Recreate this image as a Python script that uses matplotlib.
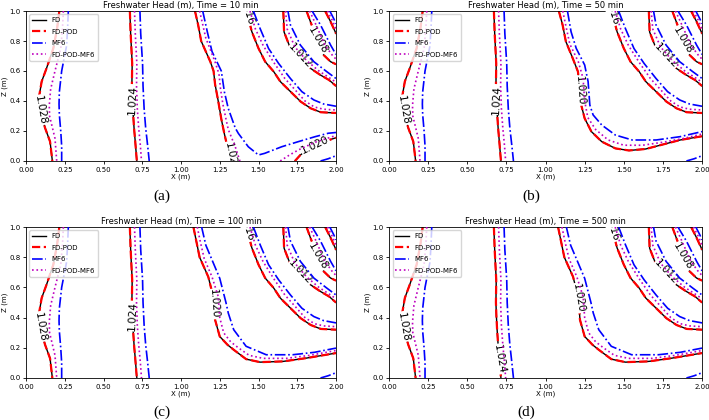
import numpy as np
import matplotlib
matplotlib.use('Agg')
from matplotlib import pyplot as plt

# Contour lines, x and z in metres.
# FD and FD-POD lie on top of each other, so they share one set of points.
# "mix" is the FD-POD-MF6 run.

# 1.028
x_fd_1028 = [0.215, 0.20, 0.176, 0.133, 0.101, 0.086, 0.09, 0.123, 0.155, 0.17]
z_fd_1028 = [1.0, 0.88, 0.75, 0.62, 0.53, 0.44, 0.34, 0.22, 0.13, 0.0]
x_mix_1028 = [0.241, 0.235, 0.224, 0.187, 0.159, 0.15, 0.152, 0.166, 0.187, 0.198]
z_mix_1028 = [1.0, 0.88, 0.75, 0.6, 0.48, 0.37, 0.3, 0.24, 0.15, 0.0]
x_mf6_1028 = [0.273, 0.268, 0.262, 0.23, 0.215, 0.213, 0.215, 0.224, 0.23, 0.23]
z_mf6_1028 = [1.0, 0.88, 0.77, 0.6, 0.46, 0.38, 0.31, 0.2, 0.1, 0.0]

# 1.024
x_fd_1024 = [0.670, 0.675, 0.685, 0.683, 0.686, 0.690, 0.697, 0.705, 0.715]
z_fd_1024 = [1.0, 0.85, 0.65, 0.50, 0.41, 0.33, 0.22, 0.126, 0.0]
x_mix_1024 = [0.700, 0.705, 0.715, 0.713, 0.718, 0.727, 0.738, 0.745]
z_mix_1024 = [1.0, 0.85, 0.65, 0.50, 0.35, 0.22, 0.10, 0.0]
x_mf6_1024 = [0.735, 0.740, 0.752, 0.755, 0.762, 0.772, 0.785, 0.795]
z_mf6_1024 = [1.0, 0.85, 0.65, 0.50, 0.35, 0.22, 0.10, 0.0]

# 1.020 at 10 min (two pieces for FD and the mix)
x_fd_1020_t10_up = [1.09, 1.11, 1.13, 1.19, 1.21, 1.22, 1.24, 1.26, 1.28, 1.305, 1.32, 1.33]
z_fd_1020_t10_up = [1.0, 0.91, 0.80, 0.66, 0.60, 0.51, 0.40, 0.28, 0.18, 0.07, 0.03, 0.0]
x_fd_1020_t10_lo = [1.735, 1.77, 1.865, 1.97, 2.0]
z_fd_1020_t10_lo = [0.0, 0.04, 0.105, 0.145, 0.155]
x_mix_1020_t10_up = [1.12, 1.14, 1.16, 1.22, 1.245, 1.255, 1.27, 1.29, 1.305, 1.35, 1.38]
z_mix_1020_t10_up = [1.0, 0.91, 0.82, 0.66, 0.58, 0.48, 0.38, 0.28, 0.21, 0.095, 0.0]
x_mix_1020_t10_lo = [1.64, 1.70, 1.76, 1.865, 2.0]
z_mix_1020_t10_lo = [0.0, 0.04, 0.075, 0.125, 0.17]
x_mf6_1020_t10 = [1.14, 1.17, 1.20, 1.26, 1.28, 1.305, 1.35, 1.37, 1.434, 1.50, 1.54,
                  1.65, 1.757, 1.865, 1.95, 2.0]
z_mf6_1020_t10 = [1.0, 0.86, 0.73, 0.60, 0.46, 0.35, 0.22, 0.184, 0.095, 0.04, 0.051,
                  0.095, 0.129, 0.162, 0.185, 0.19]

# 1.020 at 50 min
x_fd_1020_t50 = [1.085, 1.109, 1.13, 1.174, 1.207, 1.217, 1.22, 1.228, 1.25, 1.293, 1.359,
                 1.446, 1.533, 1.64, 1.75, 1.86, 2.0]
z_fd_1020_t50 = [1.0, 0.907, 0.796, 0.684, 0.596, 0.507, 0.47, 0.373, 0.284, 0.196, 0.129,
                 0.084, 0.07, 0.08, 0.11, 0.14, 0.165]
x_mix_1020_t50 = [1.11, 1.13, 1.155, 1.21, 1.24, 1.25, 1.27, 1.32, 1.40, 1.50, 1.62, 1.75, 1.88, 2.0]
z_mix_1020_t50 = [1.0, 0.9, 0.78, 0.66, 0.55, 0.40, 0.29, 0.21, 0.14, 0.105, 0.105, 0.125, 0.15, 0.18]
x_mf6_1020_t50 = [1.14, 1.163, 1.196, 1.25, 1.272, 1.283, 1.304, 1.359, 1.446, 1.554, 1.707, 1.859, 2.0]
z_mf6_1020_t50 = [1.0, 0.862, 0.751, 0.64, 0.529, 0.373, 0.307, 0.24, 0.173, 0.14, 0.14, 0.162, 0.196]

# 1.020 at 100 and 500 min
x_fd_1020_late = [1.08, 1.10, 1.12, 1.176, 1.21, 1.213, 1.22, 1.25, 1.30, 1.34, 1.42, 1.51,
                  1.66, 1.81, 2.0]
z_fd_1020_late = [1.0, 0.9, 0.80, 0.67, 0.53, 0.49, 0.385, 0.275, 0.22, 0.187, 0.125, 0.105,
                  0.11, 0.132, 0.165]
x_mix_1020_late = [1.105, 1.125, 1.15, 1.20, 1.24, 1.25, 1.275, 1.32, 1.37, 1.44, 1.53, 1.68, 1.83, 2.0]
z_mix_1020_late = [1.0, 0.9, 0.79, 0.67, 0.54, 0.40, 0.30, 0.24, 0.20, 0.15, 0.13, 0.13, 0.15, 0.182]
x_mf6_1020_late = [1.133, 1.16, 1.21, 1.25, 1.27, 1.29, 1.305, 1.34, 1.42, 1.55, 1.72, 1.86, 2.0]
z_mf6_1020_late = [1.0, 0.88, 0.758, 0.66, 0.58, 0.50, 0.43, 0.32, 0.21, 0.154, 0.154, 0.17, 0.198]

# 1.016
x_fd_1016 = [1.42, 1.44, 1.457, 1.50, 1.543, 1.598, 1.641, 1.707, 1.772, 1.837, 1.902, 2.0]
z_fd_1016 = [1.0, 0.93, 0.862, 0.751, 0.662, 0.596, 0.529, 0.462, 0.396, 0.351, 0.325, 0.32]
x_mix_1016 = [1.445, 1.48, 1.53, 1.60, 1.67, 1.74, 1.80, 1.86, 1.92, 2.0]
z_mix_1016 = [1.0, 0.88, 0.77, 0.655, 0.55, 0.47, 0.40, 0.36, 0.345, 0.34]
x_mf6_1016 = [1.467, 1.51, 1.565, 1.63, 1.706, 1.78, 1.857, 1.92, 2.0]
z_mf6_1016 = [1.0, 0.884, 0.75, 0.65, 0.55, 0.462, 0.407, 0.38, 0.365]

# 1.012
x_fd_1012 = [1.66, 1.665, 1.706, 1.77, 1.835, 1.90, 1.955, 2.0]
z_fd_1012 = [1.0, 0.86, 0.751, 0.70, 0.618, 0.573, 0.54, 0.50]
x_mix_1012 = [1.675, 1.685, 1.735, 1.81, 1.89, 1.95, 2.0]
z_mix_1012 = [1.0, 0.88, 0.76, 0.67, 0.60, 0.56, 0.525]
x_mf6_1012 = [1.69, 1.706, 1.77, 1.857, 1.94, 2.0]
z_mf6_1012 = [1.0, 0.907, 0.773, 0.662, 0.596, 0.55]

# 1.008
x_fd_1008 = [1.81, 1.835, 1.88, 1.92, 1.965, 2.0]
z_fd_1008 = [1.0, 0.929, 0.807, 0.707, 0.662, 0.645]
x_mix_1008 = [1.83, 1.87, 1.93, 1.98, 2.0]
z_mix_1008 = [1.0, 0.91, 0.77, 0.70, 0.68]
x_mf6_1008 = [1.846, 1.90, 1.965, 2.0]
z_mf6_1008 = [1.0, 0.907, 0.773, 0.71]

# 1.004 (top right corner)
x_fd_1004 = [1.93, 1.965, 2.0]
z_fd_1004 = [1.0, 0.929, 0.85]
x_mix_1004 = [1.945, 1.975, 2.0]
z_mix_1004 = [1.0, 0.94, 0.88]
x_mf6_1004 = [1.96, 1.985, 2.0]
z_mf6_1004 = [1.0, 0.95, 0.915]

# MF6 only, bottom right corner
x_mf6_corner = [1.90, 1.95, 2.0]
z_mf6_corner = [0.0, 0.015, 0.035]

times = [10, 50, 100, 500]
captions = ['(a)', '(b)', '(c)', '(d)']


def curves(t):
    fd = [(x_fd_1028, z_fd_1028), (x_fd_1024, z_fd_1024)]
    mix = [(x_mix_1028, z_mix_1028), (x_mix_1024, z_mix_1024)]
    mf6 = [(x_mf6_1028, z_mf6_1028), (x_mf6_1024, z_mf6_1024)]
    if t == 10:
        fd += [(x_fd_1020_t10_up, z_fd_1020_t10_up), (x_fd_1020_t10_lo, z_fd_1020_t10_lo)]
        mix += [(x_mix_1020_t10_up, z_mix_1020_t10_up), (x_mix_1020_t10_lo, z_mix_1020_t10_lo)]
        mf6 += [(x_mf6_1020_t10, z_mf6_1020_t10)]
    elif t == 50:
        fd += [(x_fd_1020_t50, z_fd_1020_t50)]
        mix += [(x_mix_1020_t50, z_mix_1020_t50)]
        mf6 += [(x_mf6_1020_t50, z_mf6_1020_t50)]
    else:
        fd += [(x_fd_1020_late, z_fd_1020_late)]
        mix += [(x_mix_1020_late, z_mix_1020_late)]
        mf6 += [(x_mf6_1020_late, z_mf6_1020_late)]
    fd += [(x_fd_1016, z_fd_1016), (x_fd_1012, z_fd_1012), (x_fd_1008, z_fd_1008), (x_fd_1004, z_fd_1004)]
    mix += [(x_mix_1016, z_mix_1016), (x_mix_1012, z_mix_1012), (x_mix_1008, z_mix_1008),
            (x_mix_1004, z_mix_1004)]
    mf6 += [(x_mf6_1016, z_mf6_1016), (x_mf6_1012, z_mf6_1012), (x_mf6_1008, z_mf6_1008),
            (x_mf6_1004, z_mf6_1004), (x_mf6_corner, z_mf6_corner)]
    return fd, mix, mf6


# contour labels: (FD curve, point on it, text angle, text)
labels = {
    10: [(0, 6, -80, '1.028'), (1, 4, 87, '1.024'), (2, 10, -78, '1.020'), (3, 2, 25, '1.020'),
         (4, 0, -72, '1.016'), (5, 3, -47, '1.012'), (6, 2, -60, '1.008')],
    50: [(0, 6, -80, '1.028'), (1, 4, 87, '1.024'), (2, 6, -86, '1.020'),
         (3, 0, -72, '1.016'), (4, 3, -47, '1.012'), (5, 2, -60, '1.008')],
    100: [(0, 6, -80, '1.028'), (1, 4, 87, '1.024'), (2, 5, -86, '1.020'),
          (3, 0, -72, '1.016'), (4, 3, -47, '1.012'), (5, 2, -60, '1.008')],
    500: [(0, 6, -80, '1.028'), (1, 7, -80, '1.024'), (2, 4, -80, '1.020'),
          (3, 0, -72, '1.016'), (4, 3, -47, '1.012'), (5, 2, -60, '1.008')],
}


def main():
    fig = plt.figure(figsize=(7.09, 4.2), dpi=100)
    boxes = [[0.0367, 0.6167, 0.4372, 0.3571], [0.5487, 0.6167, 0.4415, 0.3571],
             [0.0367, 0.100, 0.4372, 0.3595], [0.5487, 0.100, 0.4415, 0.3595]]
    cap_pos = [(0.229, 0.533), (0.750, 0.533), (0.229, 0.019), (0.742, 0.019)]

    for k, t in enumerate(times):
        ax = fig.add_axes(boxes[k])
        fd, mix, mf6 = curves(t)
        for i, (x, z) in enumerate(fd):
            ax.plot(x, z, color='k', lw=1.0, zorder=2, label='FD' if i == 0 else None)
        for i, (x, z) in enumerate(fd):
            ax.plot(x, z, color='r', ls='--', lw=1.6, zorder=2.1, label='FD-POD' if i == 0 else None)
        for i, (x, z) in enumerate(mf6):
            ax.plot(x, z, color='b', ls='-.', lw=1.2, zorder=4, label='MF6' if i == 0 else None)
        for i, (x, z) in enumerate(mix):
            ax.plot(x, z, color='m', ls=':', lw=1.2, zorder=4.1, label='FD-POD-MF6' if i == 0 else None)

        # clabel-like text, the FD lines are hidden under it
        for ci, pi, rot, txt in labels[t]:
            x, z = fd[ci]
            ax.text(x[pi], z[pi], txt, fontsize=7.5, rotation=rot, rotation_mode='anchor',
                    ha='center', va='center', zorder=3, clip_on=True,
                    bbox=dict(boxstyle='square,pad=0.05', fc='white', ec='none'))

        ax.set_xlim(0, 2)
        ax.set_ylim(0, 1)
        ax.set_xticks(np.arange(0, 2.01, 0.25))
        ax.set_yticks(np.arange(0, 1.01, 0.2))
        ax.tick_params(labelsize=5, length=2.5, width=0.6, pad=1.5)
        for s in ax.spines.values():
            s.set_linewidth(0.6)
        ax.set_xlabel('X (m)', fontsize=5, labelpad=1)
        ax.set_ylabel('Z (m)', fontsize=5, labelpad=1)
        ax.set_title('Freshwater Head (m), Time = %d min' % t, fontsize=6, pad=2.5)
        ax.legend(loc='upper left', fontsize=5, labelspacing=0.8)
        fig.text(cap_pos[k][0], cap_pos[k][1], captions[k], fontsize=11,
                 family='Liberation Serif', ha='center', va='center')

    fig.savefig('out.png', dpi=100)


if __name__ == '__main__':
    main()
